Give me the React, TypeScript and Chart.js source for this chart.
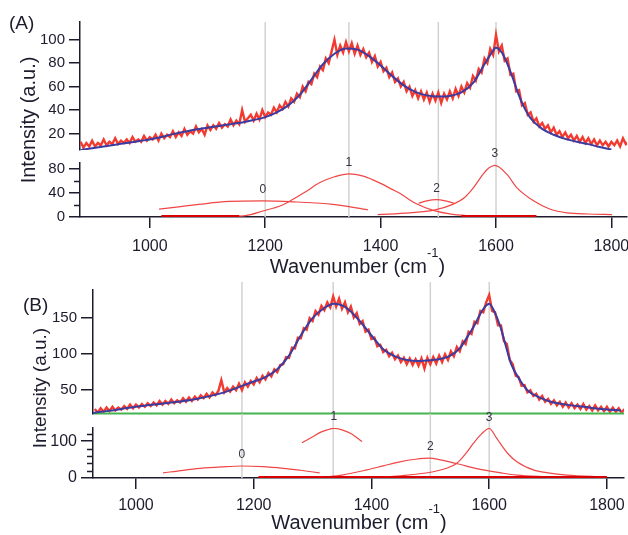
import React, { useEffect, useRef } from "react";
import { Chart, registerables } from "chart.js";

Chart.register(...registerables);

const FONT = "'Liberation Sans', Arial, Helvetica, sans-serif";
const INK = "#1c1c2e";
const RED = "#f23a30";
const COMP = "#f04646";
const ZERO = "#d80000";
const BLUE = "#3a3ca2";
const GREEN = "#45b44f";
const GRAY = "#d2d2d2";

// ---------- shared ticks ----------
const X_TICKS = [1000, 1200, 1400, 1600, 1800];
const PEAK_NAMES = ["0", "1", "2", "3"];

// ---------- panel A ----------
const A_UPPER_TICKS = [20, 40, 60, 80, 100];
const A_LOWER_TICKS = [0, 40, 80];
const A_LOWER_MINOR = [20, 60];
const A_GUIDES = [1200, 1345, 1500, 1600];

const A_SPEC_START = 880;
const A_SPEC_STEP = 5;
const A_SPEC = [
  13, 8, 12, 9, 14, 9, 12, 10, 15, 10,
  13, 11, 16, 11, 14, 12, 15, 12, 17, 13,
  15, 13, 18, 14, 17, 15, 19, 14, 20, 16,
  19, 17, 22, 17, 21, 18, 24, 19, 22, 20,
  26, 21, 24, 19, 27, 23, 27, 24, 29, 25,
  28, 26, 32, 27, 31, 28, 40, 30, 33, 36,
  31, 37, 32, 40, 34, 38, 36, 42, 38, 44,
  41, 47, 43, 50, 47, 54, 51, 60, 56, 64,
  62, 71, 68, 77, 74, 84, 80, 90, 100, 87,
  95, 89, 98, 90, 97, 88, 95, 87, 92, 85,
  89, 81, 86, 77, 81, 73, 76, 68, 72, 64,
  67, 60, 64, 56, 60, 52, 57, 50, 56, 49,
  55, 47, 54, 48, 55, 46, 54, 49, 56, 50,
  58, 52, 60, 55, 63, 59, 69, 65, 75, 72,
  84, 80, 92, 87, 104, 90, 95, 82, 84, 70,
  71, 56, 57, 44, 46, 36, 38, 30, 33, 26,
  29, 24, 27, 21, 25, 19, 22, 17, 21, 16,
  19, 14, 18, 13, 17, 12, 16, 11, 15, 10,
  14, 10, 13, 9, 13, 10, 14, 9, 16, 11,
  13,
];

const A_FIT_X = [880, 900, 920, 940, 960, 980, 1000, 1020, 1040, 1060, 1080, 1100, 1120, 1140, 1160, 1180, 1200, 1220, 1240, 1260, 1280, 1300, 1320, 1340, 1360, 1380, 1400, 1420, 1440, 1460, 1480, 1500, 1520, 1540, 1560, 1580, 1590, 1600, 1610, 1620, 1630, 1640, 1650, 1660, 1680, 1700, 1720, 1740, 1760, 1780, 1800];
const A_FIT_Y = [6, 7.5, 9, 10.5, 12, 13.5, 15, 17, 19.5, 21.5, 23.5, 25, 26.5, 28, 29.5, 31.5, 34, 38, 44, 53, 66, 79, 88, 92.5, 91.5, 86, 78, 69, 61, 55.5, 52.5, 51.5, 52, 55, 63, 79, 87, 93, 89, 79, 66, 52, 41, 33, 24, 19, 15.5, 13, 11, 8.5, 6.5];

const A_P0_X = [1016, 1050, 1085, 1137, 1195, 1254, 1317, 1378];
const A_P0_Y = [13, 17, 21, 26, 27, 25, 21, 12];
const A_P1_X = [1020, 1100, 1150, 1175, 1196, 1215, 1230, 1249, 1270, 1294, 1320, 1345, 1370, 1400, 1420, 1434, 1448, 1462, 1491, 1525, 1566, 1620];
const A_P1_Y = [0, 0.3, 1, 4, 10, 15, 20, 30, 42, 57, 67, 72, 68, 56, 46, 39, 30, 22, 11, 4.5, 1.7, 0.5];
const A_P2_X = [1466, 1480, 1497, 1512, 1527];
const A_P2_Y = [23, 27, 29, 27, 23];
const A_P3_X = [1395, 1450, 1491, 1525, 1545, 1561, 1578, 1588, 1598, 1619, 1636, 1665, 1694, 1723, 1760, 1801];
const A_P3_Y = [4, 7, 11, 21, 32, 49, 72, 82, 86, 71, 49, 27, 13, 7, 5, 4];
const A_ZERO1_X = [1020, 1155];
const A_ZERO2_X = [1540, 1670];
const A_ZERO_Y = [1.5, 1.5];
const A_LABEL_X = [1196, 1345, 1497, 1598];
const A_LABEL_Y = [45, 90, 48, 105];

// ---------- panel B ----------
const B_UPPER_TICKS = [50, 100, 150];
const B_LOWER_TICKS = [0, 100];
const B_LOWER_MINOR = [20, 40, 60, 80, 120];
const B_GUIDES = [1180, 1335, 1500, 1600];

const B_SPEC_START = 930;
const B_SPEC_STEP = 5;
const B_SPEC = [
  24, 19, 25, 20, 26, 21, 27, 22, 26, 23,
  28, 24, 30, 25, 30, 26, 31, 27, 32, 28,
  33, 29, 35, 30, 35, 31, 37, 32, 36, 33,
  39, 34, 40, 35, 41, 37, 43, 39, 45, 40,
  47, 43, 49, 64, 47, 53, 48, 55, 50, 59,
  50, 61, 55, 63, 58, 67, 61, 70, 65, 74,
  69, 79, 75, 85, 86, 96, 95, 109, 108, 123,
  122, 136, 134, 150, 146, 160, 155, 167, 161, 172,
  165, 180, 166, 177, 163, 172, 158, 166, 151, 157,
  142, 146, 131, 134, 121, 123, 111, 113, 103, 106,
  97, 102, 93, 98, 89, 95, 86, 94, 85, 93,
  84, 94, 80, 95, 86, 96, 87, 98, 89, 100,
  92, 104, 97, 110, 104, 118, 114, 131, 128, 145,
  143, 160, 158, 172, 182, 160, 158, 140, 140, 118,
  114, 92, 86, 70, 68, 56, 57, 47, 50, 42,
  45, 37, 42, 34, 38, 31, 36, 29, 34, 27,
  33, 26, 32, 25, 30, 24, 31, 23, 28, 22,
  29, 22, 27, 21, 27, 20, 26, 20, 25, 19,
  24,
];

const B_FIT_X = [927, 950, 1000, 1050, 1100, 1150, 1180, 1200, 1220, 1240, 1260, 1280, 1300, 1320, 1336, 1352, 1364, 1380, 1393, 1410, 1421, 1440, 1460, 1480, 1500, 1520, 1534, 1550, 1563, 1575, 1585, 1593, 1600, 1610, 1619, 1628, 1637, 1650, 1665, 1685, 1705, 1730, 1761, 1790, 1824];
const B_FIT_Y = [18.5, 21, 27, 32, 37.5, 47, 56, 62, 68, 79, 98, 126, 150, 164, 170, 167, 160, 146, 133, 116, 106, 97, 92, 90.5, 91.5, 94, 98, 108, 124, 140, 156, 166, 170, 157, 138, 112, 87, 67, 50, 40, 34, 30, 27, 24, 22];

const B_BASE_X = [927, 1829];
const B_BASE_Y = [17.7, 17.7];

const B_P0_X = [1046, 1080, 1109, 1145, 1180, 1215, 1250, 1279, 1312];
const B_P0_Y = [14, 21, 26, 30, 32.6, 31, 26.4, 21, 14];
const B_P1_X = [1282, 1298, 1313, 1325, 1336, 1350, 1365, 1384];
const B_P1_Y = [96, 110, 124, 131, 135, 131, 121, 99];
const B_P2_X = [1318, 1350, 1392, 1420, 1448, 1475, 1499, 1515, 1533, 1560, 1590, 1620, 1647, 1690, 1732, 1794];
const B_P2_Y = [2, 8, 22, 33, 44, 51, 54, 50, 44, 33, 22, 14, 8, 4, 2, 1];
const B_P3_X = [1403, 1450, 1505, 1530, 1545, 1560, 1573, 1587, 1600, 1612, 1618, 1632, 1647, 1675, 1700, 1732, 1794];
const B_P3_Y = [1, 6, 17, 28, 40, 66, 94, 120, 135, 110, 96, 66, 44, 22, 14, 8, 3.5];
const B_ZERO_X = [1208, 1800];
const B_ZERO_Y = [2.5, 2.5];
const B_LABEL_X = [1180, 1336, 1500, 1600];
const B_LABEL_Y = [63, 166, 84, 163];

// ---------- helpers ----------
type Pt = { x: number; y: number };
const zip = (xs: number[], ys: number[]): Pt[] => xs.map((x, i) => ({ x, y: ys[i] }));
const sampled = (start: number, step: number, ys: number[]): Pt[] =>
  ys.map((y, i) => ({ x: start + i * step, y }));
const vline = (x: number, lo: number, hi: number): Pt[] => [
  { x, y: lo },
  { x, y: hi },
];

const line = (data: Pt[], color: string, width: number, extra: any = {}) => ({
  data,
  borderColor: color,
  backgroundColor: color,
  borderWidth: width,
  pointRadius: 0,
  fill: false,
  tension: 0,
  ...extra,
});
const smooth = { cubicInterpolationMode: "monotone" };

const minorTicksPlugin = {
  id: "minorTicks",
  afterDraw(chart: any, _a: any, opts: any) {
    const vals: number[] = (opts && opts.values) || [];
    if (!vals.length) return;
    const s = chart.scales.y;
    const ctx = chart.ctx;
    const left = chart.chartArea.left;
    ctx.save();
    ctx.strokeStyle = INK;
    ctx.lineWidth = 1.5;
    vals.forEach((v) => {
      const y = Math.round(s.getPixelForValue(v)) + 0.5;
      ctx.beginPath();
      ctx.moveTo(left - (opts.length || 6), y);
      ctx.lineTo(left, y);
      ctx.stroke();
    });
    ctx.restore();
  },
};

const peakLabelsPlugin = {
  id: "peakLabels",
  afterDatasetsDraw(chart: any, _a: any, opts: any) {
    const xs: number[] = (opts && opts.x) || [];
    if (!xs.length) return;
    const ys: number[] = opts.y;
    const ctx = chart.ctx;
    ctx.save();
    ctx.fillStyle = "#333344";
    ctx.font = `12px ${FONT}`;
    ctx.textAlign = "center";
    ctx.textBaseline = "middle";
    xs.forEach((x, i) => {
      ctx.fillText(
        PEAK_NAMES[i],
        chart.scales.x.getPixelForValue(x),
        chart.scales.y.getPixelForValue(ys[i])
      );
    });
    ctx.restore();
  },
};

interface Spec {
  datasets: any[];
  xMin: number;
  xMax: number;
  yMin: number;
  yMax: number;
  yTicks: number[];
  showX: boolean;
  axisWidth: number;
  padTop: number;
  padBottom: number;
  padRight: number;
  yFont: number;
  yTickPad: number;
  yTickLen: number;
  xTickPad?: number;
  minor?: number[];
  labelX?: number[];
  labelY?: number[];
}

function makeConfig(s: Spec): any {
  return {
    type: "line",
    data: { datasets: s.datasets },
    options: {
      animation: false,
      responsive: false,
      maintainAspectRatio: false,
      events: [],
      layout: { padding: { left: 0, right: s.padRight, top: s.padTop, bottom: s.padBottom } },
      plugins: {
        legend: { display: false },
        tooltip: { enabled: false },
        minorTicks: { values: s.minor || [], length: 6 },
        peakLabels: { x: s.labelX || [], y: s.labelY || [] },
      },
      scales: {
        x: {
          type: "linear",
          min: s.xMin,
          max: s.xMax,
          display: s.showX,
          afterBuildTicks: (sc: any) => {
            sc.ticks = X_TICKS.map((v) => ({ value: v }));
          },
          afterFit: (sc: any) => {
            sc.height = s.showX ? 50 : 0;
            sc.paddingLeft = 0;
            sc.paddingRight = 0;
          },
          grid: { drawOnChartArea: false, tickLength: 11, color: INK, lineWidth: 1.5 },
          border: { color: INK, width: 1.5 },
          ticks: {
            color: INK,
            font: { family: FONT, size: 16 },
            padding: s.xTickPad ?? 9,
            maxRotation: 0,
            autoSkip: false,
            callback: (v: any) => String(v),
          },
        },
        y: {
          type: "linear",
          min: s.yMin,
          max: s.yMax,
          afterBuildTicks: (sc: any) => {
            sc.ticks = s.yTicks.map((v) => ({ value: v }));
          },
          afterFit: (sc: any) => {
            sc.width = s.axisWidth;
            sc.paddingTop = 0;
            sc.paddingBottom = 0;
          },
          grid: { drawOnChartArea: false, tickLength: s.yTickLen, color: INK, lineWidth: 1.5 },
          border: { color: INK, width: 1.5 },
          ticks: {
            color: INK,
            font: { family: FONT, size: s.yFont },
            padding: s.yTickPad,
            autoSkip: false,
            callback: (v: any) => String(v),
          },
        },
      },
    },
    plugins: [minorTicksPlugin, peakLabelsPlugin],
  };
}

// ---------- chart specs ----------
const A_X = { xMin: 879, xMax: 1827 };
const B_X = { xMin: 927, xMax: 1829 };

const aUpper = (): Spec => ({
  ...A_X,
  yMin: 6,
  yMax: 115,
  yTicks: A_UPPER_TICKS,
  showX: false,
  axisWidth: 80,
  padTop: 22,
  padBottom: 10,
  padRight: 1,
  yFont: 15,
  yTickPad: 4,
  yTickLen: 11,
  datasets: [
    line(zip(A_FIT_X, A_FIT_Y), BLUE, 2, { ...smooth, order: 1 }),
    line(sampled(A_SPEC_START, A_SPEC_STEP, A_SPEC), RED, 2.4, { order: 2 }),
    ...A_GUIDES.map((g) => line(vline(g, 6, 115), GRAY, 1.5, { order: 10 })),
  ],
});

const aLower = (): Spec => ({
  ...A_X,
  yMin: 0,
  yMax: 90,
  yTicks: A_LOWER_TICKS,
  showX: true,
  axisWidth: 80,
  padTop: 18,
  padBottom: 0,
  padRight: 1,
  yFont: 15,
  yTickPad: 4,
  yTickLen: 11,
  xTickPad: 9,
  minor: A_LOWER_MINOR,
  labelX: A_LABEL_X,
  labelY: A_LABEL_Y,
  datasets: [
    line(zip(A_ZERO1_X, A_ZERO_Y), ZERO, 2, { order: 0 }),
    line(zip(A_ZERO2_X, A_ZERO_Y), ZERO, 2, { order: 0 }),
    line(zip(A_P0_X, A_P0_Y), COMP, 1.2, { ...smooth, order: 1 }),
    line(zip(A_P1_X, A_P1_Y), COMP, 1.2, { ...smooth, order: 1 }),
    line(zip(A_P2_X, A_P2_Y), COMP, 1.2, { ...smooth, order: 1 }),
    line(zip(A_P3_X, A_P3_Y), COMP, 1.2, { ...smooth, order: 1 }),
    ...A_GUIDES.map((g) => line(vline(g, 0, 112), GRAY, 1.5, { order: 10, clip: false })),
  ],
});

const bUpper = (): Spec => ({
  ...B_X,
  yMin: 17,
  yMax: 189,
  yTicks: B_UPPER_TICKS,
  showX: false,
  axisWidth: 93,
  padTop: 20,
  padBottom: 6,
  padRight: 4,
  yFont: 15,
  yTickPad: 4,
  yTickLen: 12,
  datasets: [
    line(zip(B_FIT_X, B_FIT_Y), BLUE, 2, { ...smooth, order: 1 }),
    line(zip(B_BASE_X, B_BASE_Y), GREEN, 2, { order: 1, clip: false }),
    line(sampled(B_SPEC_START, B_SPEC_STEP, B_SPEC), RED, 2.4, { order: 2 }),
    ...B_GUIDES.map((g) => line(vline(g, 17, 200), GRAY, 1.5, { order: 10, clip: false })),
  ],
});

const bLower = (): Spec => ({
  ...B_X,
  yMin: 0,
  yMax: 136,
  yTicks: B_LOWER_TICKS,
  showX: true,
  axisWidth: 93,
  padTop: 23,
  padBottom: 0,
  padRight: 4,
  yFont: 16,
  yTickPad: 4,
  yTickLen: 12,
  xTickPad: 7,
  minor: B_LOWER_MINOR,
  labelX: B_LABEL_X,
  labelY: B_LABEL_Y,
  datasets: [
    line(zip(B_ZERO_X, B_ZERO_Y), ZERO, 2, { order: 0 }),
    line(zip(B_P0_X, B_P0_Y), COMP, 1.2, { ...smooth, order: 1 }),
    line(zip(B_P1_X, B_P1_Y), COMP, 1.2, { ...smooth, order: 1 }),
    line(zip(B_P2_X, B_P2_Y), COMP, 1.2, { ...smooth, order: 1 }),
    line(zip(B_P3_X, B_P3_Y), COMP, 1.2, { ...smooth, order: 1 }),
    ...B_GUIDES.map((g) => line(vline(g, 0, 175), GRAY, 1.5, { order: 10, clip: false })),
  ],
});

function Plot(props: { top: number; height: number; spec: () => Spec }) {
  const ref = useRef<HTMLCanvasElement>(null);
  useEffect(() => {
    const chart = new Chart(ref.current as HTMLCanvasElement, makeConfig(props.spec()));
    return () => chart.destroy();
  }, []);
  return (
    <canvas
      ref={ref}
      width={628}
      height={props.height}
      style={{ position: "absolute", left: 0, top: props.top, width: 628, height: props.height }}
    />
  );
}

const textBase: React.CSSProperties = {
  position: "absolute",
  fontFamily: FONT,
  color: INK,
  lineHeight: 1,
  whiteSpace: "nowrap",
};

function XTitle(props: { cx: number; cy: number }) {
  return (
    <div
      style={{
        ...textBase,
        left: props.cx,
        top: props.cy,
        fontSize: 20,
        transform: "translate(-50%, -50%)",
      }}
    >
      Wavenumber (cm
      <span style={{ fontSize: 13, position: "relative", top: -16 }}>-1</span>)
    </div>
  );
}

function YTitle(props: { cx: number; cy: number; size: number }) {
  return (
    <div
      style={{
        ...textBase,
        left: props.cx,
        top: props.cy,
        fontSize: props.size,
        transform: "translate(-50%, -50%) rotate(-90deg)",
      }}
    >
      Intensity (a.u.)
    </div>
  );
}

export default function App() {
  return (
    <div
      style={{
        position: "absolute",
        left: 0,
        top: 0,
        width: 628,
        height: 535,
        overflow: "hidden",
        background: "#ffffff",
      }}
    >
      <Plot top={0} height={160} spec={aUpper} />
      <Plot top={145} height={122} spec={aLower} />
      <Plot top={270} height={150} spec={bUpper} />
      <Plot top={405} height={123} spec={bLower} />

      <div style={{ ...textBase, left: 9, top: 22, fontSize: 19, transform: "translateY(-50%)" }}>(A)</div>
      <div style={{ ...textBase, left: 23, top: 303.5, fontSize: 19, transform: "translateY(-50%)" }}>(B)</div>

      <YTitle cx={27.5} cy={119.5} size={20} />
      <YTitle cx={38.7} cy={387.5} size={19} />

      <XTitle cx={357.5} cy={265.5} />
      <XTitle cx={359} cy={522} />
    </div>
  );
}
